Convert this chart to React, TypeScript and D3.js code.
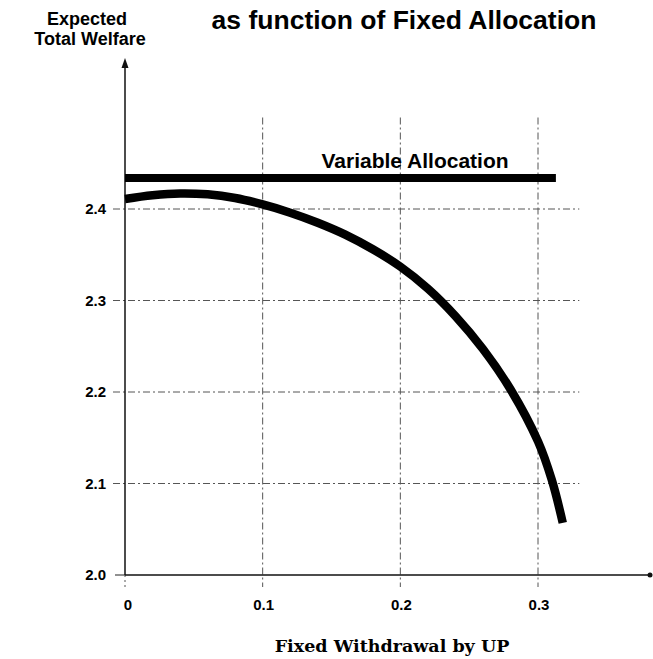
import React from "react";
import * as d3 from "d3";

const fixedX = [0, 0.02, 0.04, 0.06, 0.08, 0.1, 0.12, 0.14, 0.16, 0.18, 0.2, 0.22, 0.24, 0.26, 0.28, 0.3, 0.31, 0.318];
const fixedY = [2.411, 2.415, 2.417, 2.416, 2.412, 2.405, 2.396, 2.385, 2.372, 2.356, 2.337, 2.313, 2.283, 2.247, 2.203, 2.146, 2.104, 2.057];
const variableValue = 2.434;
const variableRange = [0, 0.313];
const xTicks = [0, 0.1, 0.2, 0.3];
const xTickLabels = ["0", "0.1", "0.2", "0.3"];
const yTicks = [2.0, 2.1, 2.2, 2.3, 2.4];
const yTickLabels = ["2.0", "2.1", "2.2", "2.3", "2.4"];

const W = 653;
const H = 659;
const sans = "'Liberation Sans', Arial, sans-serif";
const serif = "'DejaVu Serif', serif";

export default function App() {
  const x = d3.scaleLinear().domain([0, 0.3]).range([125, 538]);
  const y = d3.scaleLinear().domain([2.0, 2.4]).range([575, 209]);
  const pts = fixedX.map((v, i) => [v, fixedY[i]] as [number, number]);
  const line = d3
    .line<[number, number]>()
    .x((d) => x(d[0]))
    .y((d) => y(d[1]))
    .curve(d3.curveCatmullRom.alpha(0.5));
  const x0 = x(0);
  const y0 = y(2.0);
  const gridDash = "7,3,2,3";
  return (
    <svg width={W} height={H} style={{ position: "absolute", left: 0, top: 0, background: "#fff" }}>
      {yTicks.slice(1).map((t) => (
        <line key={"h" + t} x1={x0 - 12} x2={x(0.33)} y1={y(t)} y2={y(t)} stroke="#555" strokeWidth={1} strokeDasharray={gridDash} />
      ))}
      {xTicks.slice(1).map((t) => (
        <line key={"v" + t} x1={x(t)} x2={x(t)} y1={y(2.5)} y2={y0 + 12} stroke="#555" strokeWidth={1} strokeDasharray={gridDash} />
      ))}
      <line x1={x0 - 10} x2={x0} y1={y0} y2={y0} stroke="#222" strokeWidth={1} />
      <line x1={x0} x2={x0} y1={y0} y2={y0 + 12} stroke="#555" strokeWidth={1} strokeDasharray="2,3" />
      <line x1={x0} x2={651} y1={y0} y2={y0} stroke="#111" strokeWidth={1.5} />
      <circle cx={650} cy={y0} r={2.5} fill="#111" />
      <line x1={x0} x2={x0} y1={y0} y2={64} stroke="#111" strokeWidth={1.5} />
      <path d={`M${x0 - 3.5},${68} L${x0},${58} L${x0 + 3.5},${68} Z`} fill="#111" />
      <line
        x1={x(variableRange[0])}
        x2={x(variableRange[1])}
        y1={y(variableValue)}
        y2={y(variableValue)}
        stroke="#000"
        strokeWidth={8}
      />
      <text x={415} y={y(variableValue) - 10} textAnchor="middle" fontFamily={sans} fontWeight="bold" fontSize={21}>
        Variable Allocation
      </text>
      <path d={line(pts) || ""} fill="none" stroke="#000" strokeWidth={8.5} />
      {yTicks.map((t, i) => (
        <text key={"yl" + t} x={106} y={y(t)} dy="0.36em" textAnchor="end" fontFamily={sans} fontWeight="bold" fontSize={15}>
          {yTickLabels[i]}
        </text>
      ))}
      {xTicks.map((t, i) => (
        <text key={"xl" + t} x={x(t) + (i === 0 ? 3 : 1)} y={610} textAnchor="middle" fontFamily={sans} fontWeight="bold" fontSize={15}>
          {xTickLabels[i]}
        </text>
      ))}
      <text x={404} y={29} textAnchor="middle" fontFamily={sans} fontWeight="bold" fontSize={26.5}>
        as function of Fixed Allocation
      </text>
      <text x={87} y={25} textAnchor="middle" fontFamily={sans} fontWeight="bold" fontSize={18}>
        Expected
      </text>
      <text x={90} y={45} textAnchor="middle" fontFamily={sans} fontWeight="bold" fontSize={18}>
        Total Welfare
      </text>
      <text x={392} y={652} textAnchor="middle" fontFamily={serif} fontWeight="bold" fontSize={17.5}>
        Fixed Withdrawal by UP
      </text>
    </svg>
  );
}
